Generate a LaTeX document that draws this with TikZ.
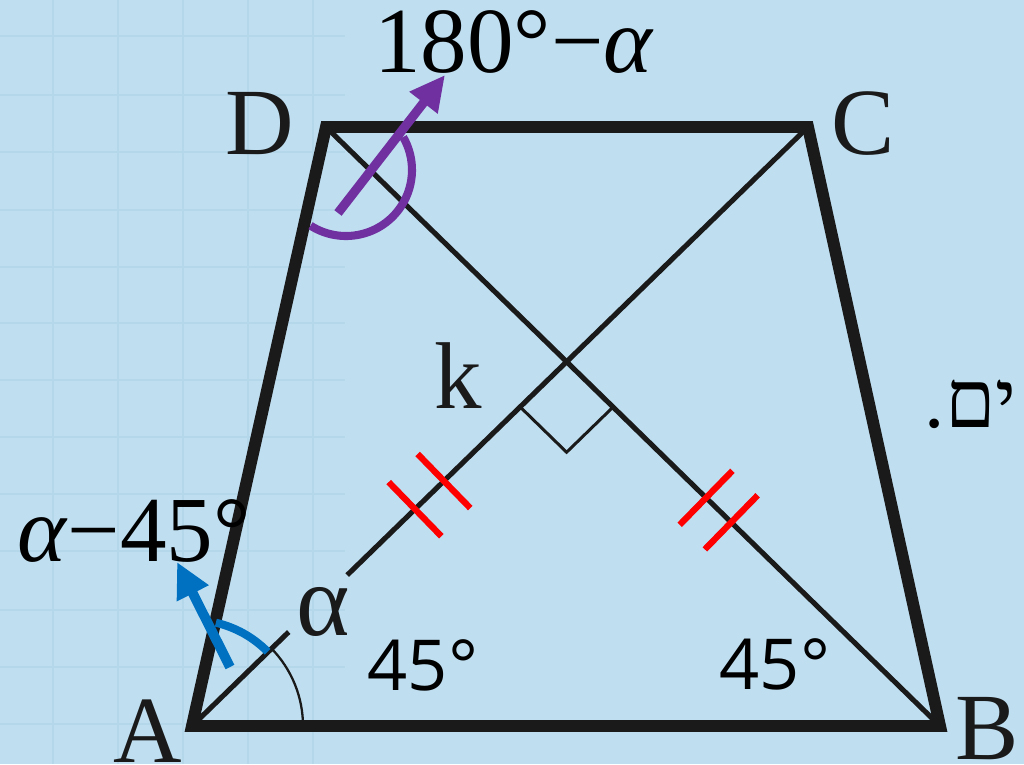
\documentclass[tikz,border=0pt]{standalone}
\usepackage{fontspec}
\setmainfont{Liberation Serif}
\newfontfamily\degfont{Open Sans}
\newfontfamily\hebfont[Script=Hebrew]{Liberation Serif}
\TeXXeTstate=1
\usepackage{tikz}
\usetikzlibrary{arrows.meta,calc}

\definecolor{bgblue}{RGB}{191,223,241}
\definecolor{gridblue}{RGB}{181,215,234}
\definecolor{inkblack}{RGB}{26,26,26}
\definecolor{arrowblue}{RGB}{0,112,192}
\definecolor{arrowpurple}{RGB}{112,48,160}
\definecolor{tickred}{RGB}{255,0,0}

\begin{document}
\begin{tikzpicture}[
    x=0.02cm, y=-0.02cm,
    gridline/.style={line width=1.1pt, gridblue},
    sideline/.style={line width=6.8pt, inkblack, line join=miter},
    diagline/.style={line width=2.9pt, inkblack},
    thinline/.style={line width=1.3pt, inkblack},
    eqtick/.style={line width=3.6pt, tickred},
    bluearc/.style={line width=4.6pt, arrowblue},
    purplearc/.style={line width=4.6pt, arrowpurple},
    bluearrow/.style={-{Triangle[length=20pt,width=19pt]}, line width=5.6pt, arrowblue},
    purplearrow/.style={-{Triangle[length=20pt,width=19pt]}, line width=5.2pt, arrowpurple},
    vertex/.style={font=\fontsize{54}{60}\selectfont, text=inkblack, inner sep=0pt},
    anglabel/.style={font=\fontsize{53}{60}\selectfont, text=black, inner sep=0pt},
    deglabel/.style={font=\degfont\fontsize{40}{48}\selectfont, text=black, inner sep=0pt}
]

% Background and grid
\useasboundingbox (0,0) rectangle (1024,764);
\fill[bgblue] (0,0) rectangle (1024,764);
\clip (0,0) rectangle (1024,764);
\foreach \gx in {53,118,183,248,313}
    \draw[gridline] (\gx,0) -- (\gx,764);
\foreach \gy in {36,95,152,210,267,323,380,437,494,551,610,667,724}
    \draw[gridline] (0,\gy) -- (345,\gy);

% Vertices
\coordinate (A) at (192,726);
\coordinate (B) at (940,726);
\coordinate (C) at (808,127);
\coordinate (D) at (326,127);
\coordinate (K) at (intersection of A--C and B--D);

% Diagonals (AC broken at the alpha label)
\coordinate (gapA) at ($(A)!0.157!(C)$);
\coordinate (gapC) at ($(A)!0.252!(C)$);
\draw[diagline] (A) -- (gapA);
\draw[diagline] (gapC) -- (C);
\draw[diagline] (B) -- (D);

% Sides
\draw[sideline] (A) -- (B) -- (C) -- (D) -- cycle;

% Right angle at k
\coordinate (ka) at ($(K)!36.9pt!(A)$);
\coordinate (kb) at ($(K)!36.9pt!(B)$);
\coordinate (kc) at ($(ka)+(kb)-(K)$);
\draw[line width=1.7pt, inkblack] (ka) -- (kc) -- (kb);

% Equal marks on AK and KB
\coordinate (ta1) at ($(A)!0.362!(C)$);
\coordinate (ta2) at ($(A)!0.409!(C)$);
\coordinate (tb1) at ($(B)!0.340!(D)$);
\coordinate (tb2) at ($(B)!0.381!(D)$);
\foreach \t/\e in {ta1/C, ta2/C, tb1/D, tb2/D}
    \draw[eqtick] ($(\t)!21.5pt!90:(\e)$) -- ($(\t)!21.5pt!-90:(\e)$);

% Angle alpha at A
\draw[thinline] ($(A)+(111,0)$) arc[start angle=0, end angle=-44.2, radius=111];
\draw[bluearc] ($(A)+(-44.5:106)$) arc[start angle=-44.5, end angle=-77, radius=106];
\coordinate (btail) at (230,667);
\coordinate (btip) at (177,562);
\draw[bluearrow] (btail) -- (btip);

% Angle at D
\coordinate (pc) at (346,170);
\draw[purplearc] ($(pc)+(-237.5:66)$) arc[start angle=-237.5, end angle=-390, radius=66];
\coordinate (ptail) at (338,213);
\coordinate (ptip) at (445,75);
\draw[purplearrow] (ptail) -- (ptip);

% Labels
\node[vertex] (lA) at (148,731) {A};
\node[vertex] (lB) at (987,729) {B};
\node[vertex] (lC) at (863,124) {C};
\node[vertex] (lD) at (260,124) {D};
\node[vertex] (lk) at (458,376) {k};
\node[vertex, font=\fontsize{58}{64}\selectfont] (lalpha) at (323,612) {α};
\node[deglabel] (l45a) at (423,665) {45°};
\node[deglabel] (l45b) at (775,664) {45°};
\node[anglabel] (ltop) at (514,42) {180°−\textit{α}};
\node[anglabel] (lleft) at (134,531) {\textit{α}−45°};
\node[font=\hebfont\fontsize{46}{52}\selectfont, text=black, anchor=base east, inner sep=0pt] (heb) at (1017,427) {\beginR ים.\endR};

\end{tikzpicture}
\end{document}
